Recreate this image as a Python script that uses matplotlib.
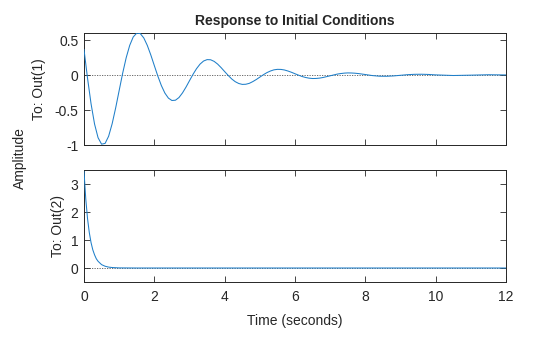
import matplotlib
matplotlib.use("Agg")
import matplotlib.pyplot as plt

plt.rcParams['font.family'] = ['Liberation Sans', 'DejaVu Sans']

# Out(1): damped oscillation
t1 = [0.0, 0.1, 0.2, 0.3, 0.4, 0.5, 0.6, 0.7, 0.8, 0.9,
      1.0, 1.1, 1.2, 1.3, 1.4, 1.5, 1.6, 1.7, 1.8, 1.9,
      2.0, 2.1, 2.2, 2.3, 2.4, 2.5, 2.6, 2.7, 2.8, 2.9,
      3.0, 3.1, 3.2, 3.3, 3.4, 3.5, 3.6, 3.7, 3.8, 3.9,
      4.0, 4.1, 4.2, 4.3, 4.4, 4.5, 4.6, 4.7, 4.8, 4.9,
      5.0, 5.1, 5.2, 5.3, 5.4, 5.5, 5.6, 5.7, 5.8, 5.9,
      6.0, 6.1, 6.2, 6.3, 6.4, 6.5, 6.6, 6.7, 6.8, 6.9,
      7.0, 7.1, 7.2, 7.3, 7.4, 7.5, 7.6, 7.7, 7.8, 7.9,
      8.0, 8.2, 8.4, 8.6, 8.8, 9.0, 9.2, 9.4, 9.6, 9.8,
      10.0, 10.5, 11.0, 11.5, 12.0]
y1 = [0.364, -0.044, -0.409, -0.700, -0.896, -0.988, -0.977, -0.875, -0.697, -0.471,
      -0.221, 0.027, 0.248, 0.424, 0.544, 0.599, 0.592, 0.530, 0.423, 0.286,
      0.134, -0.016, -0.151, -0.258, -0.330, -0.364, -0.360, -0.322, -0.256, -0.173,
      -0.081, 0.010, 0.091, 0.156, 0.200, 0.220, 0.218, 0.195, 0.156, 0.105,
      0.049, -0.006, -0.056, -0.095, -0.121, -0.134, -0.132, -0.119, -0.094, -0.064,
      -0.030, 0.004, 0.034, 0.057, 0.074, 0.081, 0.080, 0.072, 0.057, 0.039,
      0.018, -0.002, -0.021, -0.035, -0.045, -0.050, -0.049, -0.044, -0.035, -0.023,
      -0.011, 0.001, 0.013, 0.021, 0.027, 0.030, 0.029, 0.026, 0.021, 0.014,
      0.007, -0.008, -0.017, -0.018, -0.013, -0.004, 0.005, 0.010, 0.011, 0.008,
      0.002, -0.007, -0.002, 0.004, 0.001]

# Out(2): fast decay
t2 = [0.0, 0.05, 0.1, 0.15, 0.2, 0.25, 0.3, 0.35, 0.4, 0.5, 0.6, 0.7, 0.8, 1.0, 1.5, 12.0]
y2 = [3.45, 2.47, 1.77, 1.27, 0.91, 0.65, 0.47, 0.33, 0.24, 0.12, 0.063, 0.032, 0.017, 0.004, 0.0, 0.0]

xticks = [0, 2, 4, 6, 8, 10, 12]
yticks1 = [-1, -0.5, 0, 0.5]
yticks1_labels = ['-1', '-0.5', '0', '0.5']
yticks2 = [0, 1, 2, 3]

line_color = '#1f7fc9'
text_color = '#262626'
fs = 10

fig = plt.figure(figsize=(5.6, 3.37), dpi=100)
ax1 = fig.add_axes([0.15, 0.5697, 0.7536, 0.3323])
ax2 = fig.add_axes([0.15, 0.1632, 0.7536, 0.3323])

for ax in (ax1, ax2):
    ax.axhline(0, color='#555555', linestyle=(0, (1.5, 1.5)), linewidth=0.6, zorder=1)
    ax.set_xlim(0, 12)
    ax.set_xticks(xticks)
    ax.tick_params(direction='in', top=True, right=True, length=4, width=0.6,
                   colors=text_color, labelsize=fs, pad=4)
    ax.tick_params(axis='x', pad=6)
    for s in ax.spines.values():
        s.set_linewidth(0.7)
        s.set_color(text_color)

ax1.plot(t1, y1, color=line_color, linewidth=0.75, zorder=3)
ax1.set_ylim(-1, 0.6)
ax1.set_yticks(yticks1)
ax1.set_yticklabels(yticks1_labels)
ax1.tick_params(labelbottom=False)
ax1.set_ylabel('To: Out(1)', fontsize=fs, color=text_color, labelpad=6)
ax1.set_title('Response to Initial Conditions', fontsize=fs, fontweight='bold',
              color=text_color, pad=6)

ax2.plot(t2, y2, color=line_color, linewidth=0.75, zorder=3)
ax2.set_ylim(-0.5, 3.5)
ax2.set_yticks(yticks2)
ax2.set_ylabel('To: Out(2)', fontsize=fs, color=text_color, labelpad=4)
ax2.set_xlabel('Time (seconds)', fontsize=fs, color=text_color, labelpad=7)

fig.text(0.036, 0.53, 'Amplitude', rotation=90, fontsize=fs, color=text_color,
         ha='center', va='center')

fig.savefig('out.png', dpi=100)
